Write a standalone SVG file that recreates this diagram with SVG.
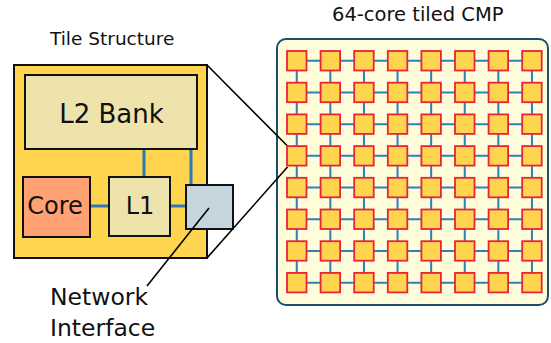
<svg xmlns="http://www.w3.org/2000/svg" width="551" height="343" viewBox="0 0 551 343">
<style>
text{font-family:"DejaVu Sans","Liberation Sans",sans-serif;fill:#111}
.box{stroke:#111;stroke-width:2}
.bl{stroke:#2a7ab5;stroke-width:3;fill:none}
.gl{stroke:#2e80b8;stroke-width:2;fill:none}
.ln{stroke:#000;stroke-width:1.6;fill:none}
.nd{fill:#ffd54f;stroke:#e8233a;stroke-width:1.8}
</style>
<text x="50" y="45" font-size="18.5">Tile Structure</text>
<text x="332" y="21" font-size="19.5">64-core tiled CMP</text>
<g id="tile"><rect class="box" x="14" y="65" width="193" height="193" fill="#ffd54f"/></g>
<g id="cmp"><rect x="277" y="39" width="271" height="266" rx="9" fill="#fffcd9" stroke="#1d4e70" stroke-width="2"/></g>
<g id="connectors">
<line class="bl" x1="144" y1="149" x2="144" y2="177"/>
<line class="bl" x1="191" y1="149" x2="191" y2="185"/>
<line class="bl" x1="90" y1="206" x2="109" y2="206"/>
<line class="bl" x1="170" y1="206" x2="186" y2="206"/>
<line class="ln" x1="207" y1="65" x2="287.5" y2="146"/>
<line class="ln" x1="207" y1="258" x2="287.5" y2="167"/>
<g class="gl">
<line x1="296.75" y1="60.75" x2="531.95" y2="60.75"/>
<line x1="296.75" y1="92.45" x2="531.95" y2="92.45"/>
<line x1="296.75" y1="124.15" x2="531.95" y2="124.15"/>
<line x1="296.75" y1="155.85" x2="531.95" y2="155.85"/>
<line x1="296.75" y1="187.55" x2="531.95" y2="187.55"/>
<line x1="296.75" y1="219.25" x2="531.95" y2="219.25"/>
<line x1="296.75" y1="250.95" x2="531.95" y2="250.95"/>
<line x1="296.75" y1="282.65" x2="531.95" y2="282.65"/>
<line x1="296.75" y1="60.75" x2="296.75" y2="282.65"/>
<line x1="330.35" y1="60.75" x2="330.35" y2="282.65"/>
<line x1="363.95" y1="60.75" x2="363.95" y2="282.65"/>
<line x1="397.55" y1="60.75" x2="397.55" y2="282.65"/>
<line x1="431.15" y1="60.75" x2="431.15" y2="282.65"/>
<line x1="464.75" y1="60.75" x2="464.75" y2="282.65"/>
<line x1="498.35" y1="60.75" x2="498.35" y2="282.65"/>
<line x1="531.95" y1="60.75" x2="531.95" y2="282.65"/>
</g>
</g>
<g id="l2"><rect class="box" x="25" y="75" width="172" height="74" fill="#eee4ab"/><text x="111.5" y="123" font-size="26" text-anchor="middle">L2 Bank</text></g>
<g id="core"><rect class="box" x="23" y="177" width="67" height="60" fill="#ffa173"/><text x="55" y="214" font-size="24" text-anchor="middle">Core</text></g>
<g id="l1"><rect class="box" x="109" y="177" width="61" height="59" fill="#eee4ab"/><text x="140" y="214" font-size="24" text-anchor="middle">L1</text></g>
<g id="ni"><rect class="box" x="186" y="185" width="47" height="44" fill="#c5d5dd"/></g>
<g id="ni-label"><line class="ln" x1="209" y1="208" x2="147" y2="286"/><text x="50" y="305" font-size="23.5">Network</text><text x="50" y="336" font-size="23.5">Interface</text></g>
<g id="grid">
<g id="n00"><rect class="nd" x="287" y="51" width="19.5" height="19.5"/></g>
<g id="n01"><rect class="nd" x="320.6" y="51" width="19.5" height="19.5"/></g>
<g id="n02"><rect class="nd" x="354.2" y="51" width="19.5" height="19.5"/></g>
<g id="n03"><rect class="nd" x="387.8" y="51" width="19.5" height="19.5"/></g>
<g id="n04"><rect class="nd" x="421.4" y="51" width="19.5" height="19.5"/></g>
<g id="n05"><rect class="nd" x="455" y="51" width="19.5" height="19.5"/></g>
<g id="n06"><rect class="nd" x="488.6" y="51" width="19.5" height="19.5"/></g>
<g id="n07"><rect class="nd" x="522.2" y="51" width="19.5" height="19.5"/></g>
<g id="n10"><rect class="nd" x="287" y="82.7" width="19.5" height="19.5"/></g>
<g id="n11"><rect class="nd" x="320.6" y="82.7" width="19.5" height="19.5"/></g>
<g id="n12"><rect class="nd" x="354.2" y="82.7" width="19.5" height="19.5"/></g>
<g id="n13"><rect class="nd" x="387.8" y="82.7" width="19.5" height="19.5"/></g>
<g id="n14"><rect class="nd" x="421.4" y="82.7" width="19.5" height="19.5"/></g>
<g id="n15"><rect class="nd" x="455" y="82.7" width="19.5" height="19.5"/></g>
<g id="n16"><rect class="nd" x="488.6" y="82.7" width="19.5" height="19.5"/></g>
<g id="n17"><rect class="nd" x="522.2" y="82.7" width="19.5" height="19.5"/></g>
<g id="n20"><rect class="nd" x="287" y="114.4" width="19.5" height="19.5"/></g>
<g id="n21"><rect class="nd" x="320.6" y="114.4" width="19.5" height="19.5"/></g>
<g id="n22"><rect class="nd" x="354.2" y="114.4" width="19.5" height="19.5"/></g>
<g id="n23"><rect class="nd" x="387.8" y="114.4" width="19.5" height="19.5"/></g>
<g id="n24"><rect class="nd" x="421.4" y="114.4" width="19.5" height="19.5"/></g>
<g id="n25"><rect class="nd" x="455" y="114.4" width="19.5" height="19.5"/></g>
<g id="n26"><rect class="nd" x="488.6" y="114.4" width="19.5" height="19.5"/></g>
<g id="n27"><rect class="nd" x="522.2" y="114.4" width="19.5" height="19.5"/></g>
<g id="n30"><rect class="nd" x="287" y="146.1" width="19.5" height="19.5"/></g>
<g id="n31"><rect class="nd" x="320.6" y="146.1" width="19.5" height="19.5"/></g>
<g id="n32"><rect class="nd" x="354.2" y="146.1" width="19.5" height="19.5"/></g>
<g id="n33"><rect class="nd" x="387.8" y="146.1" width="19.5" height="19.5"/></g>
<g id="n34"><rect class="nd" x="421.4" y="146.1" width="19.5" height="19.5"/></g>
<g id="n35"><rect class="nd" x="455" y="146.1" width="19.5" height="19.5"/></g>
<g id="n36"><rect class="nd" x="488.6" y="146.1" width="19.5" height="19.5"/></g>
<g id="n37"><rect class="nd" x="522.2" y="146.1" width="19.5" height="19.5"/></g>
<g id="n40"><rect class="nd" x="287" y="177.8" width="19.5" height="19.5"/></g>
<g id="n41"><rect class="nd" x="320.6" y="177.8" width="19.5" height="19.5"/></g>
<g id="n42"><rect class="nd" x="354.2" y="177.8" width="19.5" height="19.5"/></g>
<g id="n43"><rect class="nd" x="387.8" y="177.8" width="19.5" height="19.5"/></g>
<g id="n44"><rect class="nd" x="421.4" y="177.8" width="19.5" height="19.5"/></g>
<g id="n45"><rect class="nd" x="455" y="177.8" width="19.5" height="19.5"/></g>
<g id="n46"><rect class="nd" x="488.6" y="177.8" width="19.5" height="19.5"/></g>
<g id="n47"><rect class="nd" x="522.2" y="177.8" width="19.5" height="19.5"/></g>
<g id="n50"><rect class="nd" x="287" y="209.5" width="19.5" height="19.5"/></g>
<g id="n51"><rect class="nd" x="320.6" y="209.5" width="19.5" height="19.5"/></g>
<g id="n52"><rect class="nd" x="354.2" y="209.5" width="19.5" height="19.5"/></g>
<g id="n53"><rect class="nd" x="387.8" y="209.5" width="19.5" height="19.5"/></g>
<g id="n54"><rect class="nd" x="421.4" y="209.5" width="19.5" height="19.5"/></g>
<g id="n55"><rect class="nd" x="455" y="209.5" width="19.5" height="19.5"/></g>
<g id="n56"><rect class="nd" x="488.6" y="209.5" width="19.5" height="19.5"/></g>
<g id="n57"><rect class="nd" x="522.2" y="209.5" width="19.5" height="19.5"/></g>
<g id="n60"><rect class="nd" x="287" y="241.2" width="19.5" height="19.5"/></g>
<g id="n61"><rect class="nd" x="320.6" y="241.2" width="19.5" height="19.5"/></g>
<g id="n62"><rect class="nd" x="354.2" y="241.2" width="19.5" height="19.5"/></g>
<g id="n63"><rect class="nd" x="387.8" y="241.2" width="19.5" height="19.5"/></g>
<g id="n64"><rect class="nd" x="421.4" y="241.2" width="19.5" height="19.5"/></g>
<g id="n65"><rect class="nd" x="455" y="241.2" width="19.5" height="19.5"/></g>
<g id="n66"><rect class="nd" x="488.6" y="241.2" width="19.5" height="19.5"/></g>
<g id="n67"><rect class="nd" x="522.2" y="241.2" width="19.5" height="19.5"/></g>
<g id="n70"><rect class="nd" x="287" y="272.9" width="19.5" height="19.5"/></g>
<g id="n71"><rect class="nd" x="320.6" y="272.9" width="19.5" height="19.5"/></g>
<g id="n72"><rect class="nd" x="354.2" y="272.9" width="19.5" height="19.5"/></g>
<g id="n73"><rect class="nd" x="387.8" y="272.9" width="19.5" height="19.5"/></g>
<g id="n74"><rect class="nd" x="421.4" y="272.9" width="19.5" height="19.5"/></g>
<g id="n75"><rect class="nd" x="455" y="272.9" width="19.5" height="19.5"/></g>
<g id="n76"><rect class="nd" x="488.6" y="272.9" width="19.5" height="19.5"/></g>
<g id="n77"><rect class="nd" x="522.2" y="272.9" width="19.5" height="19.5"/></g>
</g>
</svg>
